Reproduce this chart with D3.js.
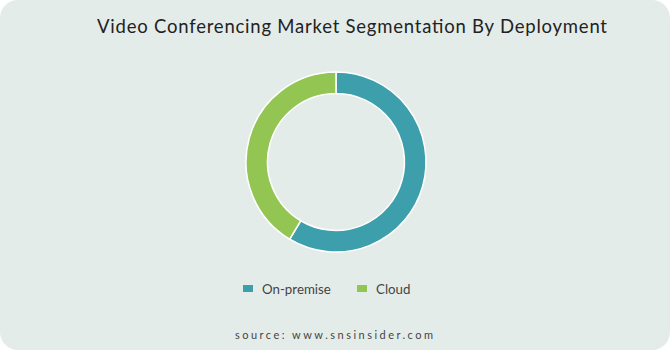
<!DOCTYPE html>
<html lang="en">
<head>
  <meta charset="UTF-8" />
  <title>Video Conferencing Market Segmentation By Deployment</title>
  <script src="https://d3js.org/d3.v7.min.js"></script>
  <style>
    body { margin: 0; background: #fff; font-family: "Lato", "DejaVu Sans", sans-serif; }
  </style>
</head>
<body>
  <svg width="670" height="350"></svg>

  <script>
  const categories = ["On-premise", "Cloud"];
  const shares = [58.6, 41.4];
  const colors = ["#3c9fab", "#93c553"];

  const svg = d3.select("svg");
  const width = +svg.attr("width");
  const height = +svg.attr("height");

  // card background
  svg.append("rect")
    .attr("x", 0).attr("y", 0)
    .attr("width", width).attr("height", height)
    .attr("rx", 18).attr("ry", 18)
    .attr("fill", "#e4ecea");

  svg.append("text")
    .attr("x", 97)
    .attr("y", 33)
    .attr("textLength", 510)
    .attr("lengthAdjust", "spacing")
    .attr("fill", "#222")
    .style("font-size", "18.5px")
    .text("Video Conferencing Market Segmentation By Deployment");

  const data = categories.map((c, i) => ({ name: c, value: shares[i] }));
  const color = d3.scaleOrdinal().domain(categories).range(colors);

  const pie = d3.pie().value(d => d.value).sort(null);
  const arc = d3.arc().innerRadius(68.5).outerRadius(90);

  svg.append("g")
    .attr("transform", "translate(336,162)")
    .selectAll("path")
    .data(pie(data))
    .enter().append("path")
    .attr("d", arc)
    .attr("fill", d => color(d.data.name))
    .attr("stroke", "#fff")
    .attr("stroke-width", 1.5);

  // legend
  const legendX = [243, 357];
  const legend = svg.append("g")
    .selectAll("g")
    .data(categories)
    .enter().append("g")
    .attr("transform", (d, i) => `translate(${legendX[i]},285)`);

  legend.append("rect")
    .attr("width", 10).attr("height", 7)
    .attr("fill", d => color(d));

  legend.append("text")
    .attr("x", 19)
    .attr("y", 4)
    .attr("dy", "0.35em")
    .attr("fill", "#444")
    .style("font-size", "13.3px")
    .text(d => d);

  svg.append("text")
    .attr("x", 235)
    .attr("y", 339)
    .attr("textLength", 198)
    .attr("lengthAdjust", "spacing")
    .attr("fill", "#444")
    .style("font-size", "11px")
    .text("source: www.snsinsider.com");
  </script>
</body>
</html>
